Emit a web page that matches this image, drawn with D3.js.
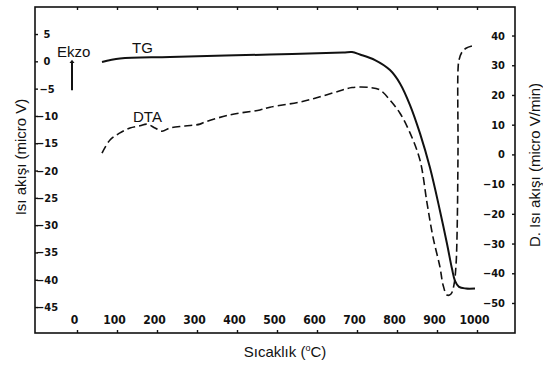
<!DOCTYPE html>
<html>
<head>
<meta charset="utf-8">
<script src="https://cdn.jsdelivr.net/npm/d3@7"></script>
<style>
  html, body { margin: 0; padding: 0; background: #fff; }
  svg { display: block; }
</style>
</head>
<body>
<svg id="chart" width="543" height="365"></svg>
<script>
// ---- data (temperature °C, left-axis value micro V) ----
const tgTemp = [62.5, 107.5, 232.5, 482.5, 665, 687.5, 707.5, 745, 782.5, 807.5, 832.5, 857.5, 882.5, 907.5, 925, 937.5, 945, 955, 972.5, 995];
const tgValue = [-0.13, 0.51, 0.79, 1.25, 1.61, 1.70, 1.25, 0.24, -1.59, -4.04, -8.0, -13.2, -19.5, -27.4, -33.4, -38.0, -40.2, -41.3, -41.6, -41.6];

const dtaTemp = [62.5, 82.5, 107.5, 132.5, 157.5, 175, 195, 212.5, 232.5, 270, 307.5, 320, 382.5, 457.5, 482.5, 557.5, 607.5, 657.5, 687.5, 732.5, 757.5, 782.5, 807.5, 832.5, 857.5, 875, 890, 907.5, 915, 925, 935, 942.5, 947.5, 950, 952.5, 952.5, 955, 962.5, 972.5, 987.5];
const dtaValue = [-16.8, -14.4, -13.1, -12.2, -11.8, -11.5, -12.2, -12.8, -12.2, -11.85, -11.5, -11.1, -9.8, -8.9, -8.4, -7.45, -6.5, -5.4, -4.8, -4.8, -5.25, -7.1, -9.5, -13.1, -18.1, -25.9, -32.2, -37.7, -40.9, -42.8, -42.6, -40.9, -37.3, -32.2, -16.3, -1.6, 0.24, 1.7, 2.4, 2.8];

const xTicks = [0, 100, 200, 300, 400, 500, 600, 700, 800, 900, 1000];
const leftTicks = [5, 0, -5, -10, -15, -20, -25, -30, -35, -40, -45];
const rightTicks = [40, 30, 20, 10, 0, -10, -20, -30, -40, -50];

const xTitle = "Sıcaklık (";
const leftTitle = "Isı akışı (micro V)";
const rightTitle = "D. Isı akışı (micro V/min)";

// ---- layout ----
const L = 35, R = 515, T = 7, B = 333;
const svg = d3.select("#chart");

const x = d3.scaleLinear().domain([-105, 1095]).range([L, R]);
const yL = d3.scaleLinear().domain([-49.75, 9.95]).range([B, T]);
const yR = d3.scaleLinear().domain([-60.1, 49.6]).range([B, T]);

const numFont = "'Liberation Sans Narrow', 'DejaVu Sans Condensed', 'Arial Narrow', sans-serif";
const txtFont = "'Liberation Sans', Arial, sans-serif";

// frame
svg.append("rect").attr("x", L).attr("y", T).attr("width", R - L).attr("height", B - T)
  .attr("fill", "none").attr("stroke", "#111").attr("stroke-width", 1.6);

function styleAxis(g) {
  g.select(".domain").remove();
  g.selectAll(".tick line").attr("stroke", "#111").attr("stroke-width", 1.4);
  g.selectAll(".tick text").attr("fill", "#111").attr("font-family", numFont).attr("font-weight", "bold");
}

// bottom axis (ticks inward, labels inside)
const gB = svg.append("g").attr("transform", `translate(0,${B})`)
  .call(d3.axisTop(x).tickValues(xTicks).tickSize(3).tickPadding(6).tickFormat(d3.format("d")));
styleAxis(gB);
gB.selectAll(".tick text").attr("font-size", 12).attr("dx", -3);

// top axis ticks
const gT = svg.append("g").attr("transform", `translate(0,${T})`)
  .call(d3.axisBottom(x).tickValues(xTicks).tickSize(3).tickFormat(""));
styleAxis(gT);

// left axis
const gL = svg.append("g").attr("transform", `translate(${L},0)`)
  .call(d3.axisRight(yL).tickValues(leftTicks).tickSize(3).tickPadding(9).tickFormat(d3.format("d")));
styleAxis(gL);
gL.selectAll(".tick text").attr("font-size", 11).attr("text-anchor", "middle").attr("x", 12);

// right axis
const gR = svg.append("g").attr("transform", `translate(${R},0)`)
  .call(d3.axisLeft(yR).tickValues(rightTicks).tickSize(3).tickPadding(7).tickFormat(d3.format("d")));
styleAxis(gR);
gR.selectAll(".tick text").attr("font-size", 11);

// curves
const tgData = tgTemp.map((t, i) => [t, tgValue[i]]);
const dtaData = dtaTemp.map((t, i) => [t, dtaValue[i]]);
const line = d3.line().x(d => x(d[0])).y(d => yL(d[1])).curve(d3.curveCatmullRom.alpha(0.5));

svg.append("path").datum(tgData).attr("d", line)
  .attr("fill", "none").attr("stroke", "#111").attr("stroke-width", 2);
svg.append("path").datum(dtaData).attr("d", line)
  .attr("fill", "none").attr("stroke", "#111").attr("stroke-width", 1.6)
  .attr("stroke-dasharray", "8,4");

// annotations
svg.append("text").attr("x", x(137.5)).attr("y", yL(1.5)).text("TG")
  .attr("font-family", txtFont).attr("font-size", 15).attr("fill", "#111");
svg.append("text").attr("x", x(140)).attr("y", yL(-11.1)).text("DTA")
  .attr("font-family", txtFont).attr("font-size", 15).attr("fill", "#111");
svg.append("text").attr("x", x(-50)).attr("y", yL(0.8)).text("Ekzo")
  .attr("font-family", txtFont).attr("font-size", 15).attr("fill", "#111");

// arrow
const ax = x(-12.5);
svg.append("line").attr("x1", ax).attr("x2", ax).attr("y1", yL(-5.3)).attr("y2", yL(-0.2))
  .attr("stroke", "#111").attr("stroke-width", 2);
svg.append("path")
  .attr("d", `M${ax - 2.5},${yL(-0.3)} L${ax},${yL(0.3)} L${ax + 2.5},${yL(-0.3)} Z`)
  .attr("fill", "#111");

// axis titles
const xt = svg.append("text").attr("x", 285).attr("y", 357).attr("text-anchor", "middle")
  .attr("font-family", txtFont).attr("font-size", 15).attr("fill", "#111");
xt.append("tspan").text(xTitle);
xt.append("tspan").text("o").attr("font-size", 9).attr("dy", -6);
xt.append("tspan").text("C)").attr("dy", 6);

svg.append("text").attr("transform", "translate(26,157) rotate(-90)").attr("text-anchor", "middle")
  .attr("font-family", txtFont).attr("font-size", 15).attr("fill", "#111").text(leftTitle);
svg.append("text").attr("transform", "translate(540,165) rotate(-90)").attr("text-anchor", "middle")
  .attr("font-family", txtFont).attr("font-size", 15).attr("fill", "#111").text(rightTitle);
</script>
</body>
</html>
